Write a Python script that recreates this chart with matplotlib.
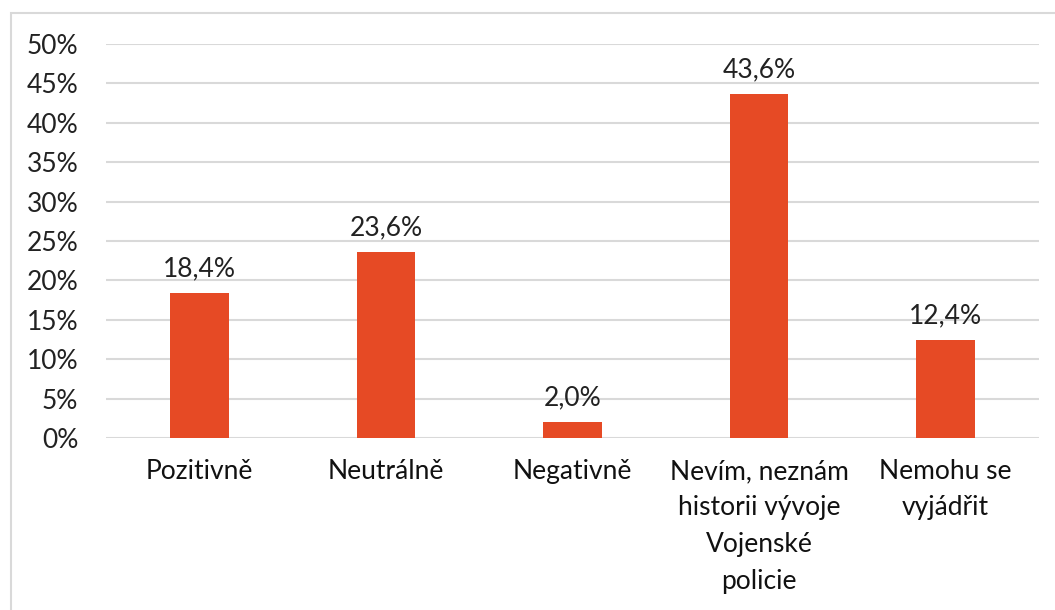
import matplotlib
matplotlib.use('Agg')
import matplotlib.pyplot as plt
from matplotlib.patches import Rectangle
import numpy as np

categories = ['Pozitivně', 'Neutrálně', 'Negativně',
              'Nevím, neznám\nhistorii vývoje\nVojenské\npolicie',
              'Nemohu se\nvyjádřit']
values = [18.4, 23.6, 2.0, 43.6, 12.4]
yticks = [0, 5, 10, 15, 20, 25, 30, 35, 40, 45, 50]

plt.rcParams['font.family'] = ['Lato', 'DejaVu Sans']

W, H = 1055, 610
fig = plt.figure(figsize=(W / 100, H / 100), dpi=100)
ax = fig.add_axes([106 / W, 1 - 438 / H, (1039 - 106) / W, (438 - 44) / H])

# outer chart border (only left/top visible)
fig.patches.append(Rectangle((11 / W, -0.1), 1.2, 1 - 13 / H + 0.1,
                             transform=fig.transFigure, fill=False,
                             edgecolor='#d9d9d9', linewidth=1.5))

x = np.arange(len(categories))
bars = ax.bar(x, values, width=0.315, color='#E64A25', zorder=3)
for b, v in zip(bars, values):
    ax.text(b.get_x() + b.get_width() / 2, v + 1.5, ('%.1f%%' % v).replace('.', ','),
            ha='center', va='bottom', fontsize=19, color='#222222')

ax.set_xlim(-0.5, len(categories) - 0.5)
ax.set_ylim(0, 50)
ax.set_yticks(yticks)
ax.set_yticklabels(['%d%%' % t for t in yticks], fontsize=19, color='#222222')
ax.set_xticks(x)
ax.set_xticklabels(categories, fontsize=19, color='#111111', linespacing=1.58, va='top')
ax.tick_params(axis='both', length=0)
ax.tick_params(axis='y', pad=20)
ax.tick_params(axis='x', pad=15)
ax.grid(axis='y', color='#d9d9d9', linewidth=1.5, zorder=0)
for s in ax.spines.values():
    s.set_visible(False)

fig.savefig('out.png', dpi=100)
